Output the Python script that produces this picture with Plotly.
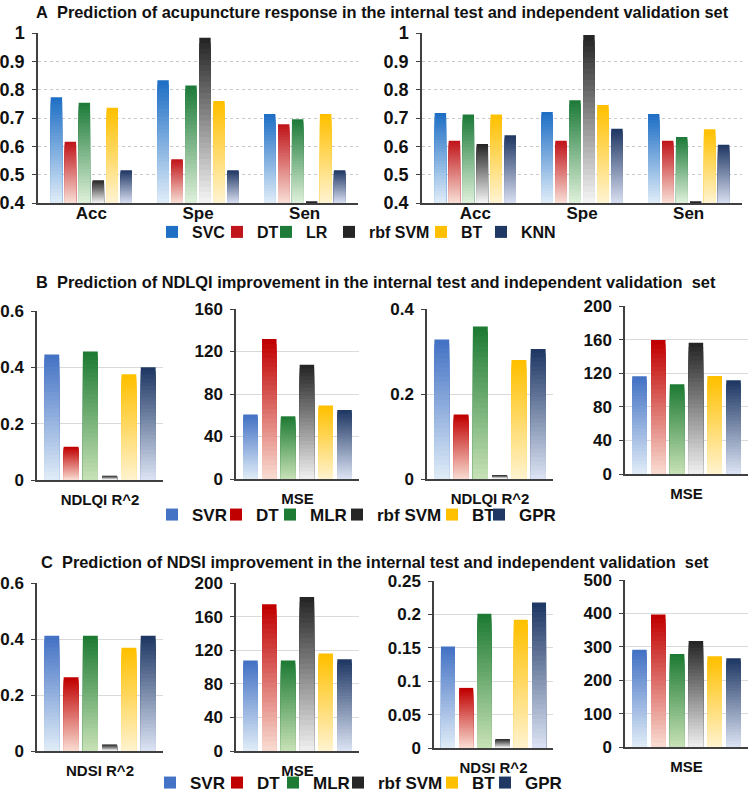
import plotly.graph_objects as go

# ---------------- data ----------------
a_metrics = ["Acc", "Spe", "Sen"]
a_models = ["SVC", "DT", "LR", "rbf SVM", "BT", "KNN"]

# Panel A - internal test set (Acc, Spe, Sen)
a_int_svc = [0.773, 0.833, 0.714]
a_int_dt = [0.616, 0.554, 0.678]
a_int_lr = [0.754, 0.815, 0.696]
a_int_rbf = [0.480, 0.983, 0.406]
a_int_bt = [0.736, 0.760, 0.714]
a_int_knn = [0.516, 0.516, 0.516]

# Panel A - independent validation set (Acc, Spe, Sen)
a_val_svc = [0.718, 0.721, 0.714]
a_val_dt = [0.620, 0.620, 0.620]
a_val_lr = [0.712, 0.763, 0.633]
a_val_rbf = [0.608, 0.993, 0.406]
a_val_bt = [0.712, 0.746, 0.660]
a_val_knn = [0.639, 0.662, 0.606]

bc_models = ["SVR", "DT", "MLR", "rbf SVM", "BT", "GPR"]

# Panel B - NDLQI (values in model order SVR, DT, MLR, rbf SVM, BT, GPR)
b_int_r2 = [0.446, 0.118, 0.456, 0.015, 0.375, 0.400]
b_int_mse = [60.7, 131.7, 59.0, 107.5, 69.2, 65.0]
b_val_r2 = [0.328, 0.152, 0.359, 0.009, 0.280, 0.306]
b_val_mse = [116.3, 159.5, 106.7, 156.3, 116.7, 111.5]

# Panel C - NDSI
c_int_r2 = [0.412, 0.263, 0.412, 0.023, 0.369, 0.412]
c_int_mse = [107.8, 174.6, 107.8, 183.3, 116.1, 109.3]
c_val_r2 = [0.152, 0.090, 0.201, 0.0134, 0.192, 0.218]
c_val_mse = [291.4, 397.0, 278.4, 317.4, 271.5, 265.5]

titles = [
    "A\u00a0 Prediction of acupuncture response in the internal test and independent validation set",
    "B\u00a0 Prediction of NDLQI improvement in the internal test and independent validation\u00a0 set",
    "C\u00a0 Prediction of NDSI improvement in the internal test and independent validation\u00a0 set",
]

# ---------------- styling ----------------
W, H = 749, 792
FONT = "Liberation Sans, Arial, sans-serif"
A_TOP = ["#1F6FC5", "#C0161B", "#1E7B3A", "#262626", "#FFC000", "#203864"]
A_BOT = ["#DDEBF8", "#F8DCD3", "#DDEFD8", "#F2F2F2", "#FFF3CF", "#D6DCEF"]
B_TOP = ["#4472C4", "#C00000", "#1E7B34", "#262626", "#FFC000", "#1F3864"]
B_BOT = ["#DEEBF7", "#F8D9CF", "#C5E0B4", "#EDEDED", "#FFF2CC", "#D9E1F2"]
NSEG = 30
MIN_GRAD = 0.015   # bars thinner than this share of the axis stay solid


def hx(h):
    h = h.lstrip("#")
    return tuple(int(h[i:i + 2], 16) for i in (0, 2, 4))


def mix(c1, c2, t):
    a, b = hx(c1), hx(c2)
    return "rgb(%d,%d,%d)" % tuple(round(x + (y - x) * t) for x, y in zip(a, b))


def pxx(p):
    return p / W


def pxy(p):
    return 1 - p / H


a_int = [a_int_svc, a_int_dt, a_int_lr, a_int_rbf, a_int_bt, a_int_knn]
a_val = [a_val_svc, a_val_dt, a_val_lr, a_val_rbf, a_val_bt, a_val_knn]


def by_model(arr):
    return [[v] for v in arr]


A_STYLE = dict(rng=[0.4, 1.0], dtick=0.1, cats=a_metrics, names=a_models, tops=A_TOP, bots=A_BOT,
               legend="legend", w=0.107, p=0.131, grid="dot", floor=0.4, tf=18, cf=17)
B_STYLE = dict(names=bc_models, tops=B_TOP, bots=B_BOT, w=0.118, p=0.153, grid="solid", floor=0,
               tf=17, cf=15)

panels = [
    dict(A_STYLE, x=(38, 358), y=(33, 203), vals=a_int, show=True),
    dict(A_STYLE, x=(422, 742), y=(33, 203), vals=a_val, show=False),
    dict(B_STYLE, x=(37, 163), y=(311, 480), rng=[0, 0.6], dtick=0.2, cats=["NDLQI R^2"],
         vals=by_model(b_int_r2), legend="legend2", show=True),
    dict(B_STYLE, x=(236, 359), y=(309, 479), rng=[0, 160], dtick=40, cats=["MSE"],
         vals=by_model(b_int_mse), legend="legend2", show=False),
    dict(B_STYLE, x=(427, 553), y=(309, 479), rng=[0, 0.4], dtick=0.2, cats=["NDLQI R^2"],
         vals=by_model(b_val_r2), legend="legend2", show=False),
    dict(B_STYLE, x=(625, 748), y=(306, 474), rng=[0, 200], dtick=40, cats=["MSE"],
         vals=by_model(b_val_mse), legend="legend2", show=False),
    dict(B_STYLE, x=(37, 163), y=(583, 751), rng=[0, 0.6], dtick=0.2, cats=["NDSI R^2"],
         vals=by_model(c_int_r2), legend="legend3", show=True),
    dict(B_STYLE, x=(236, 359), y=(583, 751), rng=[0, 200], dtick=40, cats=["MSE"],
         vals=by_model(c_int_mse), legend="legend3", show=False),
    dict(B_STYLE, x=(434, 553), y=(581, 748), rng=[0, 0.25], dtick=0.05, cats=["NDSI R^2"],
         vals=by_model(c_val_r2), legend="legend3", show=False),
    dict(B_STYLE, x=(625, 748), y=(580, 747), rng=[0, 500], dtick=100, cats=["MSE"],
         vals=by_model(c_val_mse), legend="legend3", show=False),
]

# legend text widths so entries sit like the original
LW = {"legend": [28, 12, 26, 55, 23, 40], "legend2": [27, 17, 30, 58, 10, 40],
      "legend3": [30, 19, 28, 57, 16, 40]}

fig = go.Figure()
layout = {}
for i, P in enumerate(panels, start=1):
    xa = "x" if i == 1 else "x%d" % i
    ya = "y" if i == 1 else "y%d" % i
    span = P["rng"][1] - P["rng"][0]
    for s, name in enumerate(P["names"]):
        vals = P["vals"][s]
        off = (s - 2.5) * P["p"] - P["w"] / 2
        # data bar (top colour)
        fig.add_trace(go.Bar(
            x=P["cats"], y=vals, name=name, xaxis=xa, yaxis=ya,
            marker=dict(color=P["tops"][s], line=dict(width=0)),
            width=P["w"], offset=off, legend=P["legend"], showlegend=P["show"],
            legendwidth=LW[P["legend"]][s], legendgroup=P["legend"] + name,
        ))
        # gradient overlay: nested bars from floor, lighter towards the bottom
        gx, gy, gc = [], [], []
        for ci, cat in enumerate(P["cats"]):
            v = vals[ci]
            if (v - P["floor"]) / span < MIN_GRAD:
                continue
            for k in range(1, NSEG):
                gx.append(cat)
                gy.append(P["floor"] + (v - P["floor"]) * (NSEG - k) / NSEG)
                gc.append(mix(P["tops"][s], P["bots"][s], k / (NSEG - 1)))
        if gx:
            fig.add_trace(go.Bar(
                x=gx, y=gy, xaxis=xa, yaxis=ya, marker=dict(color=gc, line=dict(width=0)),
                width=P["w"], offset=off, showlegend=False, hoverinfo="skip",
                legendgroup=P["legend"] + name,
            ))
    grid_dash = "dot" if P["grid"] == "dot" else "solid"
    layout["xaxis" if i == 1 else "xaxis%d" % i] = dict(
        domain=[pxx(P["x"][0]), pxx(P["x"][1])], anchor=ya, type="category",
        range=[-0.5, len(P["cats"]) - 0.5], showline=True, linecolor="#404040", linewidth=1.5,
        ticks="", showgrid=False, fixedrange=True,
        tickfont=dict(family=FONT, size=P["cf"], color="#111111", weight="bold"),
        ticklabelstandoff=-6 if P["grid"] == "dot" else 5,
    )
    layout["yaxis" if i == 1 else "yaxis%d" % i] = dict(
        domain=[pxy(P["y"][1]), pxy(P["y"][0])], anchor=xa, range=P["rng"],
        tick0=P["rng"][0], dtick=P["dtick"], showline=True, linecolor="#404040", linewidth=1.5,
        ticks="outside", ticklen=4, tickcolor="#404040", tickwidth=1,
        showgrid=True, gridcolor="#C8C8C8" if P["grid"] == "dot" else "#DADADA",
        griddash=grid_dash, gridwidth=1, zeroline=False, fixedrange=True,
        tickfont=dict(family=FONT, size=P["tf"], color="#111111", weight="bold"),
        ticklabelstandoff=4,
    )

leg_common = dict(orientation="h", xanchor="left", yanchor="middle", bgcolor="rgba(0,0,0,0)",
                  font=dict(family=FONT, size=17, color="#111111", weight="bold"),
                  itemclick=False, itemdoubleclick=False, indentation=-8)
layout["legend"] = dict(leg_common, x=pxx(160), y=pxy(232),
                        font=dict(family=FONT, size=16, color="#111111", weight="bold"))
layout["legend2"] = dict(leg_common, x=pxx(160), y=pxy(515))
layout["legend3"] = dict(leg_common, x=pxx(158), y=pxy(783))

ann = []
for t, (xp, yp) in zip(titles, [(34, 12), (34, 282), (39, 562)]):
    ann.append(dict(text=t, x=pxx(xp), y=pxy(yp), xref="paper", yref="paper",
                    xanchor="left", yanchor="middle", showarrow=False,
                    font=dict(family=FONT, size=16.4, color="#111111", weight="bold")))

fig.update_layout(
    width=W, height=H, margin=dict(l=0, r=0, t=0, b=0, autoexpand=False),
    paper_bgcolor="white", plot_bgcolor="white", barmode="overlay",
    font=dict(family=FONT, color="#111111"), annotations=ann, **layout,
)
# remove the browser's default 8px page margin so the figure fills the window
fig.write_html("out.html", config={"displayModeBar": False},
               post_script="document.body.style.margin='0px';")
